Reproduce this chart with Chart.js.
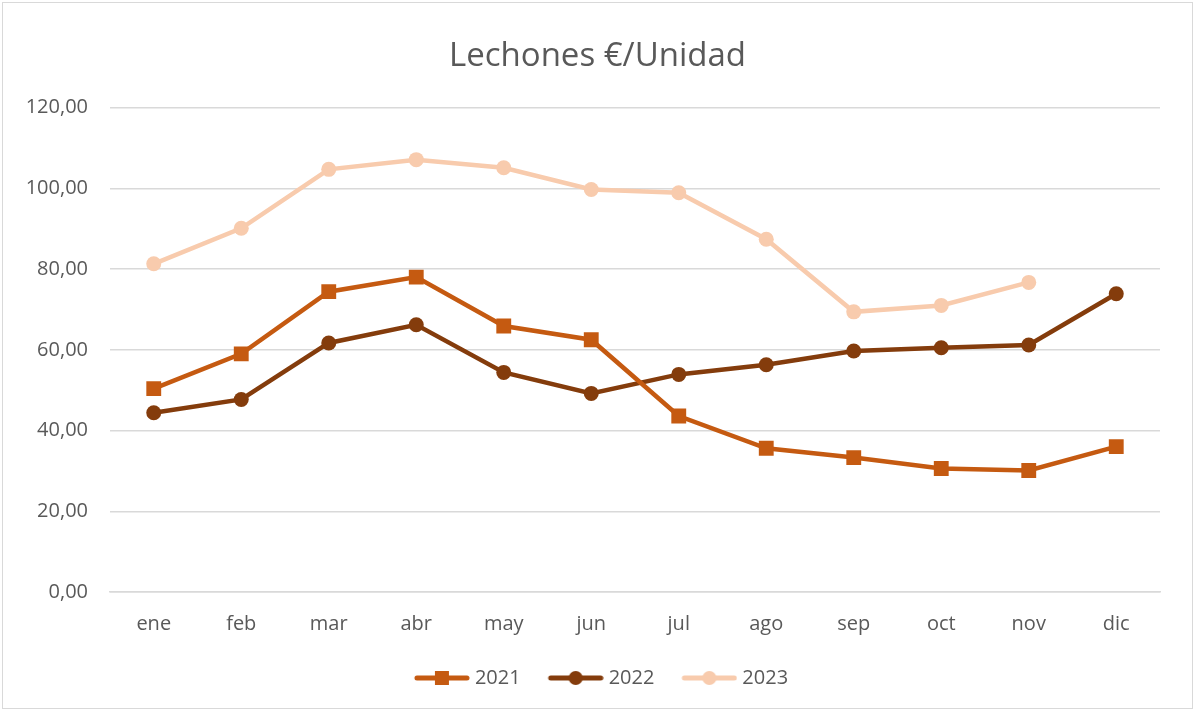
<!DOCTYPE html>
<html>
<head>
<meta charset="utf-8">
<script src="https://cdn.jsdelivr.net/npm/chart.js@4/dist/chart.umd.min.js"></script>
<style>
  html, body { margin: 0; padding: 0; background: #fff; }
  #wrap { position: absolute; left: 2px; top: 2px; width: 1189px; height: 705px; border: 1px solid #d9d9d9; }
  canvas { display: block; }
</style>
</head>
<body>
<div id="wrap"><canvas id="chart" width="1189" height="705"></canvas></div>
<script>
// Categories and series
var months = ['ene', 'feb', 'mar', 'abr', 'may', 'jun', 'jul', 'ago', 'sep', 'oct', 'nov', 'dic'];
var data2021 = [50.4, 59.0, 74.4, 78.0, 65.9, 62.5, 43.6, 35.6, 33.3, 30.6, 30.1, 36.0];
var data2022 = [44.4, 47.7, 61.7, 66.2, 54.4, 49.2, 53.9, 56.3, 59.7, 60.5, 61.2, 73.9];
var data2023 = [81.3, 90.1, 104.7, 107.1, 105.1, 99.7, 98.9, 87.4, 69.4, 71.0, 76.7, null];

var col2021 = '#C55A11';
var col2022 = '#843C0C';
var col2023 = '#F8CBAD';
var textColor = '#595959';
var fontFamily = '"Open Sans", "Liberation Sans", sans-serif';

// Legend symbol: short line with the marker in the middle (blank on the left for spacing)
function legendIcon(color, shape) {
    var c = document.createElement('canvas');
    c.width = 68;
    c.height = 18;
    var g = c.getContext('2d');
    g.strokeStyle = color;
    g.lineWidth = 5;
    g.lineCap = 'round';
    g.beginPath();
    g.moveTo(15, 9);
    g.lineTo(65, 9);
    g.stroke();
    g.fillStyle = color;
    if (shape === 'rect') {
        g.fillRect(33, 2, 14, 14);
    } else {
        g.beginPath();
        g.arc(40, 9, 7, 0, Math.PI * 2);
        g.fill();
    }
    return c;
}

function makeSet(label, values, color, shape) {
    return {
        label: label,
        data: values,
        borderColor: color,
        backgroundColor: color,
        borderWidth: 4.5,
        pointStyle: shape === 'rect' ? 'rect' : 'circle',
        pointRadius: shape === 'rect' ? 10.5 : 7.5,
        pointHoverRadius: 7.5,
        pointBorderWidth: 0,
        tension: 0,
        fill: false,
        spanGaps: false,
        legendIcon: legendIcon(color, shape)
    };
}

const ctx = document.getElementById('chart').getContext('2d');
const chart = new Chart(ctx, {
    type: 'line',
    data: {
        labels: months,
        datasets: [
            makeSet('2021', data2021, col2021, 'rect'),
            makeSet('2022', data2022, col2022, 'circle'),
            makeSet('2023', data2023, col2023, 'circle')
        ]
    },
    options: {
        responsive: false,
        animation: false,
        layout: { padding: { left: 17, right: 17, top: 18, bottom: 10 } },
        plugins: {
            title: {
                display: true,
                text: 'Lechones €/Unidad',
                color: textColor,
                font: { family: fontFamily, size: 33, weight: 'normal' },
                padding: { top: 16, bottom: 31 }
            },
            legend: {
                position: 'bottom',
                labels: {
                    color: textColor,
                    font: { family: fontFamily, size: 20 },
                    usePointStyle: true,
                    pointStyleWidth: 58,
                    padding: 20,
                    generateLabels: function (chart) {
                        return chart.data.datasets.map(function (ds, i) {
                            return {
                                text: ds.label,
                                fontColor: textColor,
                                pointStyle: ds.legendIcon,
                                datasetIndex: i,
                                hidden: false,
                                lineWidth: 0
                            };
                        });
                    }
                }
            },
            tooltip: { enabled: false }
        },
        scales: {
            x: {
                offset: true,
                grid: { display: false },
                border: { display: true, color: '#d9d9d9', width: 1.5 },
                ticks: {
                    color: textColor,
                    font: { family: fontFamily, size: 20 },
                    padding: 12
                }
            },
            y: {
                min: 0,
                max: 120,
                afterFit: function (s) { s.width = 90; },
                grid: { color: '#d9d9d9', lineWidth: 1.5, drawTicks: false },
                border: { display: false },
                ticks: {
                    stepSize: 20,
                    color: textColor,
                    font: { family: fontFamily, size: 20 },
                    padding: 22,
                    callback: function (v) { return v.toFixed(2).replace('.', ','); }
                }
            },
            // empty right-hand space so the plot ends where the reference's does
            yRight: {
                position: 'right',
                min: 0,
                max: 120,
                afterFit: function (s) { s.width = 15; },
                grid: { display: false },
                border: { display: false },
                ticks: { display: false }
            }
        }
    }
});
</script>
</body>
</html>
